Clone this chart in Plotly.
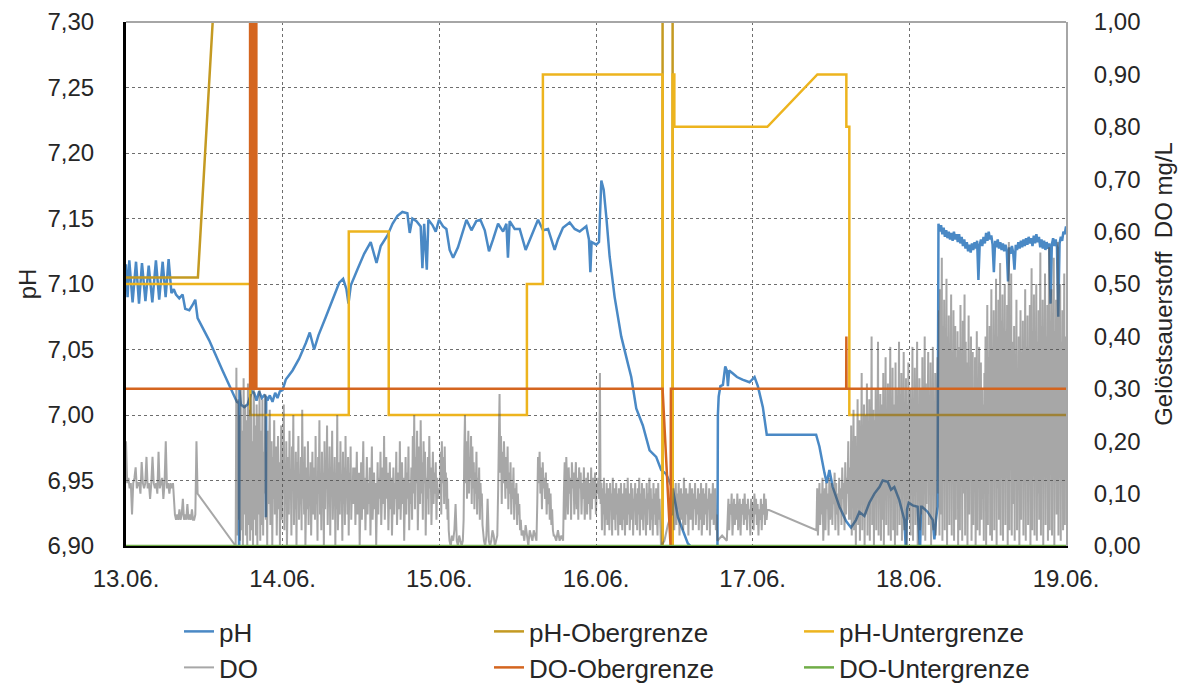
import numpy as np
import plotly.graph_objects as go

# ---------------- data ----------------
x_tick_vals = [13, 14, 15, 16, 17, 18, 19]
x_tick_text = ["13.06.", "14.06.", "15.06.", "16.06.", "17.06.", "18.06.", "19.06."]

# pH measurement (time in day-of-month, value)
ph_t = [13.000, 13.010, 13.021, 13.042, 13.064, 13.083, 13.102, 13.124, 13.145, 13.168,
        13.191, 13.212, 13.234, 13.253, 13.272, 13.290, 13.305, 13.319, 13.340, 13.361,
        13.378, 13.404, 13.425, 13.442, 13.457, 13.531, 13.616, 13.680, 13.708, 13.721,
        13.722, 13.724, 13.733, 13.755, 13.776, 13.791, 13.804, 13.818, 13.833, 13.850,
        13.867, 13.882, 13.892, 13.893, 13.895, 13.903, 13.918, 13.935, 13.952, 13.967,
        13.982, 13.999, 14.020, 14.063, 14.105, 14.148, 14.173, 14.201, 14.229, 14.276,
        14.318, 14.361, 14.386, 14.407, 14.420, 14.435, 14.477, 14.520, 14.562, 14.584,
        14.599, 14.626, 14.669, 14.701, 14.733, 14.764, 14.796, 14.811, 14.828, 14.854,
        14.881, 14.892, 14.903, 14.920, 14.930, 14.956, 14.977, 14.998, 15.024, 15.045,
        15.066, 15.088, 15.119, 15.173, 15.205, 15.236, 15.262, 15.290, 15.317, 15.343,
        15.375, 15.407, 15.428, 15.438, 15.449, 15.481, 15.513, 15.551, 15.587, 15.630,
        15.662, 15.694, 15.736, 15.757, 15.789, 15.832, 15.864, 15.896, 15.938, 15.955,
        15.964, 15.972, 16.002, 16.019, 16.034, 16.049, 16.066, 16.087, 16.119, 16.161,
        16.204, 16.225, 16.257, 16.299, 16.342, 16.384, 16.416, 16.448, 16.491, 16.523,
        16.554, 16.586, 16.618, 16.660, 16.720, 16.775, 16.778, 16.783, 16.794, 16.810,
        16.825, 16.835, 16.842, 16.850, 16.870, 16.900, 16.935, 16.980, 17.012, 17.033,
        17.065, 17.090, 17.405, 17.426, 17.458, 17.473, 17.490, 17.511, 17.554, 17.596,
        17.628, 17.660, 17.681, 17.713, 17.745, 17.777, 17.809, 17.830, 17.862, 17.883,
        17.904, 17.936, 17.968, 17.979, 17.985, 17.996, 18.021, 18.053, 18.068, 18.075,
        18.081, 18.117, 18.149, 18.160, 18.170, 18.180]
ph_v = [7.115, 7.090, 7.118, 7.086, 7.117, 7.085, 7.116, 7.087, 7.114, 7.086,
        7.118, 7.088, 7.117, 7.090, 7.119, 7.093, 7.096, 7.092, 7.089, 7.092,
        7.081, 7.080, 7.084, 7.088, 7.074, 7.057, 7.034, 7.017, 7.010, 7.009,
        6.800, 7.019, 7.008, 7.006, 7.008, 7.014, 7.018, 7.017, 7.011, 7.018,
        7.013, 7.015, 7.014, 6.922, 7.014, 7.011, 7.015, 7.010, 7.017, 7.013,
        7.018, 7.019, 7.027, 7.034, 7.043, 7.055, 7.063, 7.050, 7.061, 7.075,
        7.088, 7.101, 7.104, 7.096, 7.085, 7.099, 7.111, 7.123, 7.132, 7.123,
        7.116, 7.129, 7.137, 7.146, 7.152, 7.155, 7.154, 7.139, 7.150, 7.148,
        7.144, 7.112, 7.146, 7.111, 7.149, 7.145, 7.140, 7.149, 7.144, 7.142,
        7.126, 7.120, 7.128, 7.149, 7.141, 7.148, 7.149, 7.141, 7.125, 7.134,
        7.146, 7.140, 7.146, 7.120, 7.148, 7.142, 7.142, 7.126, 7.136, 7.149,
        7.141, 7.142, 7.126, 7.134, 7.143, 7.147, 7.142, 7.140, 7.144, 7.134,
        7.109, 7.132, 7.130, 7.132, 7.179, 7.172, 7.151, 7.121, 7.090, 7.060,
        7.039, 7.029, 7.005, 6.992, 6.973, 6.968, 6.958, 6.955, 6.943, 6.922,
        6.912, 6.902, 6.898, 6.890, 6.885, 6.888, 7.000, 7.014, 7.022, 7.023,
        7.037, 7.034, 7.022, 7.034, 7.032, 7.029, 7.027, 7.025, 7.029, 7.022,
        7.006, 6.985, 6.985, 6.976, 6.956, 6.948, 6.958, 6.945, 6.930, 6.919,
        6.914, 6.920, 6.926, 6.923, 6.933, 6.940, 6.945, 6.950, 6.949, 6.943,
        6.945, 6.935, 6.920, 6.895, 6.928, 6.933, 6.931, 6.930, 6.895, 6.930,
        6.930, 6.926, 6.920, 6.905, 6.920, 6.930]

# pH readings after the probe was serviced on 18.06. (regular logging interval)
ph_tail_start, ph_tail_end = 18.186, 19.000
ph_tail_v = [7.146, 7.140, 7.145, 7.138, 7.143, 7.136, 7.141, 7.135, 7.140, 7.134,
             7.139, 7.133, 7.140, 7.134, 7.138, 7.132, 7.138, 7.131, 7.136, 7.129,
             7.134, 7.127, 7.132, 7.125, 7.130, 7.124, 7.131, 7.126, 7.132, 7.127,
             7.133, 7.103, 7.130, 7.134, 7.129, 7.136, 7.131, 7.139, 7.133, 7.140,
             7.134, 7.137, 7.130, 7.109, 7.133, 7.128, 7.134, 7.127, 7.132, 7.126,
             7.131, 7.125, 7.130, 7.126, 7.102, 7.128, 7.123, 7.129, 7.124, 7.111,
             7.130, 7.126, 7.132, 7.127, 7.133, 7.128, 7.134, 7.129, 7.135, 7.130,
             7.136, 7.131, 7.135, 7.129, 7.137, 7.131, 7.138, 7.132, 7.136, 7.128,
             7.134, 7.127, 7.133, 7.126, 7.132, 7.127, 7.131, 7.085, 7.130, 7.135,
             7.129, 7.134, 7.128, 7.075, 7.131, 7.136, 7.133, 7.140, 7.138, 7.144]

# pH upper limit
ph_upper_t = [13.000, 13.459, 13.650, 16.425, 16.425, 16.489, 16.489, 19.000]
ph_upper_v = [7.105, 7.105, 7.500, 7.500, 0.0, 0.0, 7.500, 7.500]

# pH lower limit
ph_lower_t = [13.000, 13.793, 13.793, 14.422, 14.422, 14.677, 14.677, 15.559, 15.559,
              15.661, 15.661, 16.425, 16.425, 16.489, 16.489, 16.500, 16.500, 17.094,
              17.413, 17.598, 17.598, 17.617, 17.617, 19.000]
ph_lower_v = [7.10, 7.10, 7.00, 7.00, 7.14, 7.14, 7.00, 7.00, 7.10,
              7.10, 7.26, 7.26, 0.0, 0.0, 7.26, 7.26, 7.22, 7.22,
              7.26, 7.26, 7.22, 7.22, 7.00, 7.00]

# dissolved oxygen, logged in blocks: (start day, end day, readings in mg/L)
do_blocks = [
    (13.000, 13.300, [0.20, 0.12, 0.13, 0.11, 0.12, 0.06, 0.12, 0.13, 0.15, 0.11,
                      0.12, 0.12, 0.10, 0.16, 0.12, 0.11, 0.12, 0.17, 0.11, 0.12,
                      0.09, 0.12, 0.17, 0.12, 0.11, 0.12, 0.10, 0.18, 0.11, 0.12,
                      0.13, 0.09, 0.12, 0.20, 0.11, 0.12, 0.10, 0.12, 0.11, 0.12]),
    (13.305, 13.457, [0.08, 0.06, 0.05, 0.06, 0.05, 0.07, 0.05, 0.06, 0.09, 0.05,
                      0.06, 0.05, 0.08, 0.05, 0.06, 0.05, 0.07, 0.05, 0.05, 0.06,
                      0.20, 0.10]),
    (13.700, 13.880, [0.00, 0.34, 0.02, 0.28, 0.05, 0.25, 0.01, 0.30, 0.03, 0.22,
                      0.00, 0.32, 0.06, 0.27, 0.02, 0.24, 0.00, 0.31, 0.04, 0.26,
                      0.01, 0.29, 0.03, 0.20, 0.00, 0.33, 0.05, 0.23, 0.02, 0.27,
                      0.00, 0.25, 0.06, 0.30, 0.01, 0.22, 0.04, 0.28, 0.02, 0.18]),
    (13.885, 14.450, [0.10, 0.29, 0.05, 0.18, 0.00, 0.22, 0.08, 0.15, 0.26, 0.04,
                      0.12, 0.20, 0.00, 0.17, 0.09, 0.24, 0.06, 0.14, 0.19, 0.02,
                      0.11, 0.21, 0.07, 0.16, 0.00, 0.13, 0.23, 0.05, 0.18, 0.10,
                      0.27, 0.03, 0.15, 0.08, 0.20, 0.00, 0.12, 0.17, 0.06, 0.22,
                      0.09, 0.14, 0.02, 0.19, 0.11, 0.25, 0.04, 0.13, 0.07, 0.18,
                      0.00, 0.16, 0.10, 0.21, 0.05, 0.12, 0.08, 0.17, 0.03, 0.26,
                      0.09, 0.14, 0.06, 0.19, 0.00, 0.11, 0.15, 0.07, 0.20, 0.04,
                      0.13, 0.09, 0.16, 0.02, 0.12, 0.18, 0.06, 0.10, 0.15, 0.05,
                      0.21, 0.08, 0.13, 0.01, 0.17, 0.10, 0.24, 0.06, 0.12, 0.03,
                      0.18, 0.09, 0.14, 0.00, 0.20, 0.07, 0.16, 0.11, 0.23, 0.04,
                      0.13, 0.08, 0.19, 0.02, 0.15, 0.10, 0.22, 0.05, 0.12, 0.09,
                      0.17, 0.00, 0.14, 0.07, 0.25, 0.03, 0.11, 0.16, 0.06, 0.20,
                      0.09, 0.13, 0.01, 0.18, 0.08, 0.15, 0.04, 0.21, 0.10, 0.12,
                      0.06, 0.17, 0.02, 0.14, 0.09, 0.19, 0.05, 0.11, 0.08, 0.15]),
    (14.455, 15.000, [0.08, 0.15, 0.04, 0.12, 0.18, 0.06, 0.10, 0.14, 0.00, 0.09,
                      0.16, 0.05, 0.11, 0.20, 0.07, 0.13, 0.03, 0.10, 0.17, 0.06,
                      0.12, 0.08, 0.15, 0.02, 0.11, 0.19, 0.05, 0.09, 0.14, 0.07,
                      0.12, 0.00, 0.10, 0.16, 0.06, 0.13, 0.09, 0.18, 0.04, 0.11,
                      0.15, 0.08, 0.21, 0.05, 0.12, 0.17, 0.09, 0.14, 0.03, 0.11,
                      0.16, 0.07, 0.13, 0.02, 0.10, 0.15, 0.06, 0.12, 0.09, 0.18,
                      0.04, 0.11, 0.14, 0.07, 0.20, 0.05, 0.12, 0.16, 0.08, 0.13,
                      0.01, 0.10, 0.17, 0.06, 0.14, 0.09, 0.19, 0.03, 0.12, 0.08,
                      0.15, 0.05, 0.21, 0.10, 0.25, 0.07, 0.17, 0.12, 0.22, 0.03,
                      0.14, 0.19, 0.08, 0.24, 0.10, 0.16, 0.05, 0.20, 0.12, 0.18,
                      0.02, 0.13, 0.09, 0.17, 0.06, 0.21, 0.11, 0.15, 0.04, 0.12,
                      0.18, 0.08, 0.14, 0.10, 0.16, 0.05, 0.13, 0.09, 0.11, 0.10]),
    (15.005, 15.060, [0.10, 0.18, 0.06, 0.20, 0.12, 0.17, 0.15, 0.08, 0.19, 0.11,
                      0.14, 0.07, 0.13, 0.05, 0.09, 0.03]),
    (15.065, 15.150, [0.01, 0.00, 0.02, 0.01, 0.03, 0.08, 0.01, 0.00, 0.02, 0.01,
                      0.00, 0.01]),
    (15.155, 15.280, [0.05, 0.18, 0.25, 0.12, 0.20, 0.09, 0.15, 0.22, 0.10, 0.17,
                      0.13, 0.21, 0.08, 0.19, 0.11, 0.16, 0.07, 0.14, 0.10, 0.18,
                      0.06, 0.13, 0.09, 0.15, 0.05, 0.12, 0.08, 0.10, 0.04, 0.02]),
    (15.285, 15.370, [0.01, 0.00, 0.02, 0.09, 0.01, 0.00, 0.01, 0.03, 0.02, 0.00,
                      0.01, 0.02]),
    (15.375, 15.520, [0.10, 0.19, 0.29, 0.14, 0.21, 0.08, 0.18, 0.12, 0.20, 0.15,
                      0.09, 0.17, 0.11, 0.19, 0.07, 0.14, 0.10, 0.16, 0.06, 0.12,
                      0.09, 0.15, 0.05, 0.11, 0.08, 0.12, 0.04, 0.10, 0.06, 0.08,
                      0.03, 0.05]),
    (15.525, 15.620, [0.02, 0.03, 0.01, 0.04, 0.02, 0.00, 0.03, 0.02, 0.01, 0.03,
                      0.02, 0.01]),
    (15.625, 15.730, [0.08, 0.17, 0.12, 0.18, 0.10, 0.15, 0.07, 0.16, 0.11, 0.13,
                      0.09, 0.14, 0.06, 0.12, 0.08, 0.11, 0.05, 0.10, 0.04, 0.07,
                      0.03, 0.02]),
    (15.735, 15.790, [0.02, 0.01, 0.03, 0.01, 0.02, 0.01]),
    (15.795, 16.020, [0.10, 0.16, 0.05, 0.17, 0.12, 0.06, 0.15, 0.10, 0.13, 0.05,
                      0.16, 0.11, 0.14, 0.06, 0.12, 0.16, 0.07, 0.13, 0.05, 0.15,
                      0.11, 0.14, 0.06, 0.12, 0.09, 0.15, 0.05, 0.10, 0.13, 0.06,
                      0.14, 0.08, 0.12, 0.05, 0.15, 0.07, 0.13, 0.09, 0.11, 0.14,
                      0.06, 0.12, 0.10, 0.13, 0.09]),
    (16.025, 16.410, [0.33, 0.08, 0.12, 0.03, 0.11, 0.06, 0.13, 0.02, 0.10, 0.05,
                      0.12, 0.04, 0.09, 0.11, 0.03, 0.12, 0.07, 0.10, 0.02, 0.13,
                      0.05, 0.11, 0.08, 0.03, 0.12, 0.06, 0.10, 0.02, 0.11, 0.09,
                      0.04, 0.12, 0.07, 0.03, 0.10, 0.05, 0.12, 0.02, 0.09, 0.11,
                      0.04, 0.13, 0.06, 0.10, 0.03, 0.08, 0.12, 0.05, 0.11, 0.02,
                      0.09, 0.07, 0.12, 0.04, 0.10, 0.03, 0.11, 0.06, 0.13, 0.02,
                      0.10, 0.05, 0.12, 0.08, 0.03, 0.11, 0.06, 0.09, 0.02, 0.12,
                      0.04, 0.10, 0.07, 0.13, 0.03, 0.11, 0.05, 0.09, 0.02, 0.12,
                      0.06, 0.10, 0.04, 0.11, 0.08, 0.02, 0.12, 0.05, 0.09, 0.03]),
    (16.415, 16.480, [0.00, 0.01, 0.04, 0.06]),
    (16.490, 16.770, [0.06, 0.11, 0.03, 0.09, 0.12, 0.04, 0.10, 0.07, 0.12, 0.02,
                      0.09, 0.11, 0.05, 0.10, 0.03, 0.13, 0.08, 0.04, 0.11, 0.06,
                      0.10, 0.02, 0.09, 0.12, 0.05, 0.08, 0.11, 0.03, 0.10, 0.07,
                      0.12, 0.04, 0.09, 0.06, 0.11, 0.03, 0.10, 0.05, 0.12, 0.02,
                      0.08, 0.11, 0.04, 0.10, 0.06, 0.12, 0.03, 0.09, 0.07, 0.11,
                      0.02, 0.10, 0.05, 0.09, 0.12, 0.04, 0.08, 0.11, 0.03, 0.06]),
    (16.775, 16.835, [0.01, 0.02, 0.01]),
    (16.840, 17.094, [0.05, 0.09, 0.03, 0.08, 0.06, 0.10, 0.02, 0.07, 0.09, 0.04,
                      0.08, 0.05, 0.10, 0.03, 0.07, 0.09, 0.02, 0.08, 0.06, 0.09,
                      0.04, 0.10, 0.05, 0.08, 0.03, 0.09, 0.06, 0.07, 0.02, 0.09,
                      0.05, 0.08, 0.03, 0.10, 0.06, 0.09, 0.04, 0.08, 0.02, 0.07,
                      0.05, 0.09, 0.03, 0.08, 0.06, 0.10, 0.04, 0.09, 0.05, 0.07]),
    (17.407, 17.620, [0.03, 0.11, 0.02, 0.09, 0.12, 0.04, 0.10, 0.06, 0.13, 0.01,
                      0.08, 0.11, 0.03, 0.12, 0.07, 0.10, 0.02, 0.13, 0.05, 0.09,
                      0.12, 0.04, 0.11, 0.08, 0.14, 0.03, 0.12, 0.06, 0.10, 0.02,
                      0.13, 0.07, 0.11, 0.04, 0.15, 0.09, 0.12, 0.03, 0.16, 0.06,
                      0.13, 0.10, 0.20, 0.05, 0.15]),
    (17.625, 18.180, [0.05, 0.23, 0.02, 0.18, 0.10, 0.26, 0.03, 0.15, 0.21, 0.00,
                      0.19, 0.08, 0.28, 0.04, 0.17, 0.24, 0.01, 0.20, 0.12, 0.33,
                      0.03, 0.22, 0.09, 0.27, 0.00, 0.18, 0.25, 0.06, 0.31, 0.02,
                      0.21, 0.14, 0.28, 0.01, 0.23, 0.11, 0.40, 0.04, 0.19, 0.26,
                      0.00, 0.24, 0.09, 0.30, 0.03, 0.22, 0.15, 0.39, 0.02, 0.25,
                      0.12, 0.29, 0.01, 0.20, 0.27, 0.05, 0.33, 0.00, 0.23, 0.17,
                      0.36, 0.04, 0.26, 0.10, 0.31, 0.02, 0.24, 0.19, 0.38, 0.01,
                      0.28, 0.13, 0.34, 0.03, 0.22, 0.27, 0.00, 0.35, 0.08, 0.30,
                      0.02, 0.25, 0.18, 0.39, 0.04, 0.29, 0.11, 0.33, 0.01, 0.26,
                      0.21, 0.37, 0.03, 0.24, 0.14, 0.32, 0.00, 0.27, 0.09, 0.35,
                      0.05, 0.23, 0.30, 0.02, 0.28, 0.16, 0.38, 0.01, 0.25, 0.12,
                      0.34, 0.04, 0.29, 0.20, 0.39, 0.00, 0.26, 0.10, 0.32, 0.03,
                      0.24, 0.30, 0.06, 0.36, 0.02, 0.27, 0.15, 0.40, 0.01, 0.31,
                      0.08, 0.28, 0.22, 0.37, 0.04, 0.25, 0.13, 0.35, 0.00, 0.29,
                      0.18, 0.38, 0.03, 0.26, 0.11, 0.33, 0.02, 0.30, 0.21, 0.36]),
    (18.185, 19.000, [0.10, 0.45, 0.02, 0.49, 0.06, 0.38, 0.55, 0.01, 0.42, 0.15,
                      0.47, 0.03, 0.35, 0.28, 0.51, 0.00, 0.40, 0.12, 0.44, 0.04,
                      0.33, 0.25, 0.48, 0.02, 0.37, 0.19, 0.45, 0.01, 0.30, 0.42,
                      0.05, 0.36, 0.14, 0.41, 0.00, 0.29, 0.38, 0.03, 0.46, 0.22,
                      0.34, 0.01, 0.43, 0.10, 0.31, 0.48, 0.02, 0.39, 0.17, 0.35,
                      0.00, 0.27, 0.44, 0.06, 0.33, 0.20, 0.40, 0.01, 0.26, 0.37,
                      0.04, 0.30, 0.12, 0.36, 0.00, 0.24, 0.41, 0.03, 0.32, 0.18,
                      0.38, 0.02, 0.28, 0.35, 0.05, 0.30, 0.09, 0.27, 0.01, 0.33,
                      0.22, 0.40, 0.00, 0.29, 0.46, 0.04, 0.36, 0.15, 0.42, 0.02,
                      0.31, 0.49, 0.01, 0.38, 0.20, 0.45, 0.03, 0.33, 0.26, 0.51,
                      0.00, 0.40, 0.11, 0.47, 0.05, 0.35, 0.54, 0.02, 0.43, 0.18,
                      0.48, 0.01, 0.37, 0.29, 0.50, 0.04, 0.41, 0.13, 0.46, 0.00,
                      0.34, 0.58, 0.03, 0.44, 0.24, 0.52, 0.02, 0.39, 0.30, 0.08,
                      0.42, 0.01, 0.36, 0.21, 0.47, 0.03, 0.32, 0.14, 0.40, 0.00,
                      0.28, 0.45, 0.05, 0.37, 0.19, 0.43, 0.02, 0.34, 0.26, 0.49,
                      0.01, 0.38, 0.12, 0.44, 0.04, 0.31, 0.22, 0.46, 0.00, 0.35,
                      0.53, 0.03, 0.41, 0.17, 0.48, 0.02, 0.36, 0.27, 0.50, 0.01,
                      0.39, 0.10, 0.45, 0.05, 0.33, 0.56, 0.02, 0.42, 0.20, 0.47,
                      0.00, 0.37, 0.28, 0.52, 0.04, 0.40, 0.15, 0.46, 0.01, 0.34,
                      0.57, 0.03, 0.43, 0.23, 0.49, 0.02, 0.38, 0.31, 0.55, 0.00,
                      0.41, 0.12, 0.47, 0.06, 0.36, 0.58, 0.02, 0.44, 0.25, 0.50,
                      0.01, 0.39, 0.18, 0.45, 0.03, 0.35, 0.52, 0.04, 0.40, 0.33]),
]

# DO upper limit (mg/L)
do_upper_t = [13.000, 13.792, 13.792, 13.800, 13.800, 13.808, 13.808, 13.816, 13.816,
              13.824, 13.824, 13.832, 13.832, 16.425, 16.476, 16.478, 17.597, 17.598,
              17.599, 19.000]
do_upper_v = [0.30, 0.30, 3.00, 3.00, 0.30, 0.30, 3.00, 3.00, 0.30,
              0.30, 3.00, 3.00, 0.30, 0.30, 0.00, 0.30, 0.30, 0.40,
              0.30, 0.30]

# DO lower limit (mg/L)
do_lower_t = [13.000, 19.000]
do_lower_v = [0.00, 0.00]

# ---------------- figure ----------------
ph_x = np.concatenate([ph_t, np.linspace(ph_tail_start, ph_tail_end, len(ph_tail_v))])
ph_y = np.concatenate([ph_v, ph_tail_v])
do_t = np.concatenate([np.linspace(a, b, len(v)) for a, b, v in do_blocks])
do_v = np.concatenate([np.array(v) for _, _, v in do_blocks])

FONT = "Liberation Sans, Arial, sans-serif"
TXT = "#262626"
TICK = dict(family=FONT, size=24, color=TXT)

fig = go.Figure()
fig.add_trace(go.Scatter(x=ph_x, y=ph_y, name="pH", mode="lines",
                         line=dict(color="#4A89C5", width=2.5), legend="legend"))
fig.add_trace(go.Scatter(x=ph_upper_t, y=ph_upper_v, name="pH-Obergrenze", mode="lines",
                         line=dict(color="#C49A22", width=2.5), legend="legend"))
fig.add_trace(go.Scatter(x=ph_lower_t, y=ph_lower_v, name="pH-Untergrenze", mode="lines",
                         line=dict(color="#EDB41E", width=2.5), legend="legend"))
fig.add_trace(go.Scatter(x=do_t, y=do_v, name="DO", mode="lines", yaxis="y2",
                         line=dict(color="rgba(80,80,80,0.5)", width=2), legend="legend2"))
fig.add_trace(go.Scatter(x=do_upper_t, y=do_upper_v, name="DO-Obergrenze", mode="lines",
                         yaxis="y2", line=dict(color="#D4651F", width=2.5), legend="legend2"))
fig.add_trace(go.Scatter(x=do_lower_t, y=do_lower_v, name="DO-Untergrenze", mode="lines",
                         yaxis="y2", line=dict(color="#70AD47", width=2.5), legend="legend2"))

legend_common = dict(orientation="h", xanchor="left", yanchor="top",
                     entrywidthmode="pixels", entrywidth=265,
                     font=dict(family=FONT, size=26, color=TXT),
                     bgcolor="rgba(0,0,0,0)", borderwidth=0)

fig.update_layout(
    width=1182, height=686,
    margin=dict(l=126, r=116, t=22, b=140, autoexpand=False),
    paper_bgcolor="white", plot_bgcolor="white",
    separators=", ",
    font=dict(family=FONT, size=24, color=TXT),
    legend=dict(x=0.0564, y=-0.1183, **legend_common),
    legend2=dict(x=0.0564, y=-0.1870, **legend_common),
    xaxis=dict(range=[13, 19], tickvals=x_tick_vals, ticktext=x_tick_text,
               showgrid=True, gridcolor="#6E6E6E", griddash="dot", gridwidth=1,
               showline=True, linecolor="black", linewidth=2, ticks="",
               ticklabelstandoff=10, zeroline=False, tickfont=TICK),
    yaxis=dict(range=[6.90, 7.30], dtick=0.05, tickformat=".2f",
               showgrid=True, gridcolor="#6E6E6E", griddash="dot", gridwidth=1,
               showline=True, linecolor="black", linewidth=3, ticks="",
               ticklabelstandoff=24, zeroline=False, tickfont=TICK,
               title=dict(text="pH", standoff=5, font=TICK)),
    yaxis2=dict(range=[0, 1.0], dtick=0.1, tickformat=".2f", overlaying="y", side="right",
                showgrid=False, showline=True, linecolor="#A6A6A6", linewidth=2, ticks="",
                ticklabelstandoff=21, zeroline=False, tickfont=TICK,
                title=dict(text="Gelöstsauerstoff\u00a0 DO mg/L", standoff=16, font=TICK)),
    shapes=[dict(type="line", xref="paper", yref="paper", x0=0, x1=1, y0=1, y1=1,
                 line=dict(color="#A6A6A6", width=2), layer="above")],
)

fig.write_html("out.html")
